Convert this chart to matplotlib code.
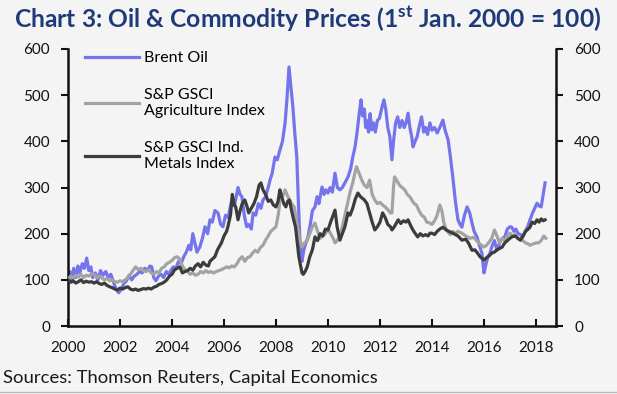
import matplotlib
matplotlib.use("Agg")
import matplotlib.pyplot as plt

brent_t = [2000.0, 2000.08, 2000.15, 2000.22, 2000.3, 2000.38, 2000.45, 2000.55, 2000.63, 2000.72, 2000.8, 2000.88, 2000.95, 2001.05, 2001.15, 2001.25, 2001.35, 2001.45, 2001.55, 2001.65, 2001.75, 2001.85, 2001.95, 2002.05, 2002.15, 2002.25, 2002.35, 2002.45, 2002.55, 2002.65, 2002.75, 2002.85, 2002.95, 2003.05, 2003.15, 2003.22, 2003.3, 2003.38, 2003.48, 2003.58, 2003.68, 2003.78, 2003.88, 2003.95, 2004.05, 2004.15, 2004.25, 2004.35, 2004.45, 2004.55, 2004.65, 2004.72, 2004.8, 2004.88, 2004.96, 2005.07, 2005.17, 2005.27, 2005.37, 2005.46, 2005.55, 2005.65, 2005.77, 2005.87, 2005.96, 2006.06, 2006.16, 2006.3, 2006.4, 2006.54, 2006.62, 2006.69, 2006.78, 2006.87, 2006.95, 2007.05, 2007.12, 2007.22, 2007.32, 2007.42, 2007.5, 2007.6, 2007.7, 2007.77, 2007.85, 2007.96, 2008.05, 2008.15, 2008.25, 2008.35, 2008.42, 2008.5, 2008.57, 2008.65, 2008.72, 2008.8, 2008.86, 2008.92, 2009.0, 2009.07, 2009.15, 2009.23, 2009.32, 2009.4, 2009.5, 2009.58, 2009.65, 2009.77, 2009.85, 2009.92, 2010.0, 2010.08, 2010.17, 2010.27, 2010.36, 2010.46, 2010.55, 2010.65, 2010.77, 2010.87, 2010.95, 2011.04, 2011.12, 2011.2, 2011.27, 2011.33, 2011.4, 2011.45, 2011.5, 2011.56, 2011.62, 2011.68, 2011.75, 2011.82, 2011.9, 2011.98, 2012.06, 2012.15, 2012.22, 2012.3, 2012.38, 2012.46, 2012.52, 2012.6, 2012.68, 2012.76, 2012.85, 2012.93, 2013.0, 2013.08, 2013.15, 2013.22, 2013.27, 2013.35, 2013.43, 2013.5, 2013.6, 2013.68, 2013.75, 2013.83, 2013.92, 2014.0, 2014.1, 2014.2, 2014.3, 2014.42, 2014.5, 2014.62, 2014.7, 2014.8, 2014.9, 2015.0, 2015.08, 2015.15, 2015.25, 2015.35, 2015.45, 2015.54, 2015.62, 2015.73, 2015.82, 2015.92, 2016.0, 2016.06, 2016.15, 2016.23, 2016.32, 2016.4, 2016.5, 2016.6, 2016.7, 2016.8, 2016.9, 2017.0, 2017.07, 2017.15, 2017.23, 2017.3, 2017.4, 2017.5, 2017.58, 2017.68, 2017.77, 2017.87, 2017.95, 2018.04, 2018.12, 2018.2, 2018.28, 2018.35]
brent_v = [100, 118, 95, 125, 105, 130, 115, 135, 125, 147, 120, 128, 105, 115, 100, 120, 110, 118, 105, 112, 95, 80, 72, 80, 92, 98, 110, 100, 108, 112, 118, 115, 125, 120, 130, 128, 105, 98, 108, 112, 105, 118, 112, 120, 128, 125, 140, 135, 150, 160, 175, 165, 200, 180, 160, 171, 190, 215, 200, 230, 225, 250, 245, 220, 215, 240, 235, 273, 260, 300, 285, 280, 240, 215, 220, 210, 245, 240, 265, 255, 273, 280, 300, 316, 330, 366, 360, 381, 400, 440, 490, 561, 520, 474, 420, 366, 270, 186, 140, 165, 180, 193, 220, 250, 258, 280, 265, 301, 285, 295, 288, 300, 290, 331, 300, 295, 300, 310, 323, 340, 365, 388, 420, 460, 490, 455, 470, 430, 445, 420, 460, 425, 440, 420, 445, 450, 470, 490, 470, 430, 410, 360, 400, 440, 453, 430, 445, 430, 440, 461, 430, 410, 388, 400, 410, 430, 453, 420, 430, 415, 440, 424, 430, 418, 430, 446, 425, 403, 370, 323, 270, 230, 220, 214, 240, 258, 245, 223, 205, 193, 175, 158, 115, 130, 150, 158, 175, 185, 164, 180, 190, 193, 210, 215, 214, 205, 210, 201, 198, 193, 205, 215, 230, 245, 255, 266, 260, 258, 285, 310]

agri_t = [2000.0, 2000.1, 2000.2, 2000.3, 2000.4, 2000.5, 2000.6, 2000.7, 2000.8, 2000.9, 2001.0, 2001.1, 2001.2, 2001.3, 2001.4, 2001.5, 2001.6, 2001.7, 2001.8, 2001.9, 2002.0, 2002.1, 2002.2, 2002.3, 2002.4, 2002.5, 2002.6, 2002.7, 2002.8, 2002.9, 2003.0, 2003.1, 2003.2, 2003.3, 2003.4, 2003.5, 2003.6, 2003.7, 2003.8, 2003.9, 2004.0, 2004.1, 2004.2, 2004.3, 2004.4, 2004.5, 2004.6, 2004.7, 2004.8, 2004.9, 2005.0, 2005.1, 2005.2, 2005.3, 2005.4, 2005.5, 2005.6, 2005.7, 2005.8, 2005.9, 2006.0, 2006.1, 2006.2, 2006.3, 2006.4, 2006.5, 2006.6, 2006.7, 2006.8, 2006.9, 2007.0, 2007.1, 2007.2, 2007.3, 2007.4, 2007.5, 2007.6, 2007.7, 2007.8, 2007.9, 2008.0, 2008.1, 2008.15, 2008.25, 2008.35, 2008.42, 2008.5, 2008.6, 2008.7, 2008.8, 2008.92, 2009.0, 2009.1, 2009.2, 2009.3, 2009.4, 2009.5, 2009.6, 2009.7, 2009.8, 2009.9, 2010.0, 2010.1, 2010.2, 2010.27, 2010.35, 2010.45, 2010.55, 2010.65, 2010.77, 2010.85, 2010.95, 2011.05, 2011.1, 2011.2, 2011.3, 2011.4, 2011.5, 2011.6, 2011.7, 2011.8, 2011.9, 2012.0, 2012.1, 2012.2, 2012.3, 2012.4, 2012.46, 2012.52, 2012.56, 2012.65, 2012.75, 2012.85, 2012.95, 2013.05, 2013.15, 2013.3, 2013.4, 2013.5, 2013.6, 2013.7, 2013.8, 2013.92, 2014.0, 2014.1, 2014.2, 2014.3, 2014.38, 2014.45, 2014.55, 2014.7, 2014.8, 2014.9, 2015.0, 2015.15, 2015.3, 2015.45, 2015.6, 2015.7, 2015.8, 2015.9, 2016.0, 2016.1, 2016.2, 2016.3, 2016.4, 2016.5, 2016.6, 2016.7, 2016.8, 2016.9, 2017.0, 2017.1, 2017.2, 2017.3, 2017.4, 2017.5, 2017.6, 2017.7, 2017.77, 2017.9, 2018.0, 2018.1, 2018.2, 2018.3, 2018.38]
agri_v = [100, 108, 104, 110, 106, 112, 105, 110, 108, 113, 112, 105, 108, 104, 100, 103, 98, 100, 96, 95, 98, 96, 100, 105, 112, 120, 128, 122, 125, 120, 118, 122, 115, 112, 118, 115, 125, 128, 135, 138, 142, 148, 150, 145, 130, 122, 118, 112, 115, 110, 112, 118, 115, 120, 116, 118, 115, 118, 120, 122, 125, 128, 126, 130, 128, 135, 145, 150, 140, 148, 150, 158, 164, 160, 170, 175, 186, 195, 205, 210, 215, 245, 273, 280, 295, 285, 275, 265, 258, 225, 186, 171, 180, 185, 200, 215, 223, 205, 190, 195, 200, 210, 200, 190, 180, 185, 195, 215, 240, 270, 290, 310, 335, 345, 330, 316, 305, 300, 316, 285, 273, 265, 268, 262, 258, 252, 245, 245, 300, 323, 315, 305, 300, 295, 285, 280, 266, 262, 250, 240, 236, 225, 223, 220, 228, 240, 262, 250, 225, 208, 198, 205, 200, 205, 201, 195, 190, 192, 186, 180, 175, 171, 175, 182, 190, 208, 195, 180, 190, 185, 195, 201, 195, 198, 190, 186, 185, 180, 178, 175, 178, 180, 180, 185, 195, 190]

metal_t = [2000.0, 2000.1, 2000.2, 2000.3, 2000.4, 2000.5, 2000.6, 2000.7, 2000.8, 2000.9, 2001.0, 2001.1, 2001.2, 2001.3, 2001.4, 2001.5, 2001.6, 2001.7, 2001.8, 2001.9, 2002.0, 2002.1, 2002.2, 2002.3, 2002.4, 2002.5, 2002.6, 2002.7, 2002.8, 2002.9, 2003.0, 2003.1, 2003.2, 2003.3, 2003.4, 2003.5, 2003.6, 2003.7, 2003.8, 2003.9, 2004.0, 2004.1, 2004.2, 2004.3, 2004.4, 2004.5, 2004.6, 2004.7, 2004.8, 2004.9, 2005.0, 2005.1, 2005.2, 2005.3, 2005.4, 2005.46, 2005.55, 2005.65, 2005.75, 2005.9, 2006.0, 2006.1, 2006.15, 2006.25, 2006.32, 2006.38, 2006.45, 2006.54, 2006.62, 2006.7, 2006.8, 2006.88, 2006.95, 2007.05, 2007.15, 2007.25, 2007.35, 2007.42, 2007.5, 2007.6, 2007.7, 2007.8, 2007.9, 2008.0, 2008.08, 2008.15, 2008.22, 2008.3, 2008.38, 2008.45, 2008.52, 2008.6, 2008.68, 2008.75, 2008.82, 2008.88, 2008.95, 2009.0, 2009.05, 2009.12, 2009.2, 2009.3, 2009.4, 2009.5, 2009.6, 2009.7, 2009.8, 2009.9, 2010.0, 2010.1, 2010.2, 2010.27, 2010.35, 2010.46, 2010.55, 2010.65, 2010.77, 2010.85, 2010.95, 2011.05, 2011.15, 2011.25, 2011.4, 2011.5, 2011.6, 2011.7, 2011.8, 2011.9, 2012.0, 2012.1, 2012.2, 2012.3, 2012.4, 2012.46, 2012.55, 2012.65, 2012.7, 2012.8, 2012.9, 2013.0, 2013.08, 2013.2, 2013.3, 2013.45, 2013.55, 2013.65, 2013.75, 2013.85, 2013.92, 2014.0, 2014.1, 2014.2, 2014.3, 2014.42, 2014.55, 2014.65, 2014.8, 2014.9, 2015.0, 2015.15, 2015.3, 2015.4, 2015.54, 2015.65, 2015.75, 2015.85, 2016.0, 2016.1, 2016.2, 2016.3, 2016.4, 2016.5, 2016.6, 2016.7, 2016.8, 2016.9, 2017.0, 2017.07, 2017.2, 2017.3, 2017.4, 2017.5, 2017.6, 2017.7, 2017.77, 2017.85, 2017.95, 2018.04, 2018.12, 2018.2, 2018.28, 2018.35]
metal_v = [100, 95, 98, 93, 96, 100, 94, 97, 95, 96, 93, 96, 92, 90, 93, 88, 85, 83, 80, 78, 82, 80, 83, 85, 80, 78, 80, 77, 79, 81, 80, 82, 80, 84, 86, 90, 92, 95, 100, 108, 112, 122, 125, 128, 115, 118, 120, 125, 121, 130, 135, 128, 138, 132, 130, 140, 145, 150, 165, 180, 195, 205, 215, 240, 285, 265, 258, 230, 250, 265, 273, 260, 245, 255, 265, 280, 305, 310, 295, 285, 270, 273, 262, 258, 270, 295, 280, 265, 258, 270, 273, 250, 230, 215, 180, 150, 130, 115, 112, 118, 128, 150, 165, 193, 185, 200, 195, 210, 208, 225, 240, 251, 215, 186, 200, 215, 245, 240, 255, 275, 288, 280, 273, 265, 245, 225, 208, 215, 225, 245, 235, 220, 215, 208, 215, 225, 230, 222, 228, 225, 230, 215, 205, 193, 200, 195, 198, 195, 201, 201, 198, 205, 210, 214, 208, 205, 201, 198, 195, 186, 188, 180, 164, 165, 158, 150, 143, 148, 152, 158, 160, 165, 168, 171, 180, 185, 190, 193, 195, 190, 186, 195, 205, 210, 214, 225, 222, 230, 225, 232, 228, 230]

years = list(range(2000, 2019, 2))
yticks = [0, 100, 200, 300, 400, 500, 600]

BG = '#F4F4F4'
plt.rcParams['font.family'] = ['Lato', 'DejaVu Sans']

fig = plt.figure(figsize=(6.17, 3.94), dpi=100, facecolor=BG)
ax = fig.add_axes([68/617, 1-326/394, (556-68)/617, (326-49)/394])
ax.set_facecolor(BG)

l1, = ax.plot(brent_t, brent_v, color='#7474EC', lw=2.3, label='Brent Oil', zorder=2)
l2, = ax.plot(agri_t, agri_v, color='#A3A3A3', lw=2.3, label='S&P GSCI\nAgriculture Index', zorder=3)
l3, = ax.plot(metal_t, metal_v, color='#3C3C3C', lw=2.3, label='S&P GSCI Ind.\nMetals Index', zorder=4)

ax.set_xlim(2000, 2018.77)
ax.set_ylim(0, 600)
ax.set_xticks(years)
ax.set_yticks(yticks)
ax.spines['top'].set_visible(False)
for s in ['left', 'right', 'bottom']:
    ax.spines[s].set_linewidth(1.8)
    ax.spines[s].set_color('#111111')
ax.tick_params(axis='y', which='both', direction='out', length=5, width=1.5, labelsize=11,
               left=True, right=True, labelleft=True, labelright=True, pad=8, colors='#111111')
ax.tick_params(axis='x', direction='in', length=5, width=1.5, labelsize=11, pad=11, colors='#111111')

ax.legend(handles=[l1, l2, l3], loc='upper left', bbox_to_anchor=(0.022, 1.015), frameon=False,
          fontsize=11.5, handlelength=3.4, handletextpad=0.3, labelspacing=1.42, borderaxespad=0)

title = fig.text(14/617, 1-19/394, 'Chart 3: Oil & Commodity Prices (1$^{\\mathregular{st}}$ Jan. 2000 = 100)',
                 fontsize=18, fontweight='bold', color='#1E3A78', va='center', ha='left')
fig.canvas.draw()
w = title.get_window_extent().width
title.set_fontsize(18 * 588 / w)

fig.text(3/617, 1-378/394, 'Sources: Thomson Reuters, Capital Economics', fontsize=13.3, color='#1a1a1a',
         va='center', ha='left')
fig.add_artist(plt.Line2D([0, 1], [1-392/394, 1-392/394], color='#BBBBBB', lw=1, transform=fig.transFigure))

fig.savefig('out.png', dpi=100, facecolor=BG)
